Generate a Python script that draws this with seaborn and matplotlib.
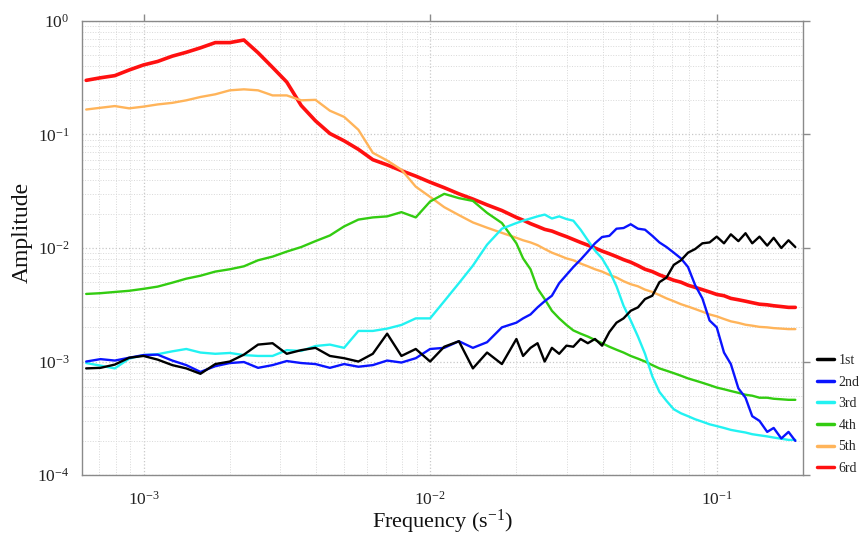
import pandas as pd
import matplotlib
matplotlib.use("Agg")
import matplotlib.pyplot as plt
import seaborn as sns

# frequency grid (s^-1)
freq = [0.000631, 0.000708, 0.000794, 0.000891, 0.001, 0.00112, 0.00126, 0.00141, 0.00158, 0.00178,
        0.002, 0.00224, 0.00251, 0.00282, 0.00316, 0.00355, 0.00398, 0.00447, 0.00501, 0.00562,
        0.00631, 0.00708, 0.00794, 0.00891, 0.01, 0.0112, 0.0126, 0.0141, 0.0158, 0.0178,
        0.02, 0.0211, 0.0224, 0.0237, 0.0251, 0.0266, 0.0282, 0.0299, 0.0316, 0.0335,
        0.0355, 0.0376, 0.0398, 0.0422, 0.0447, 0.0473, 0.0501, 0.0531, 0.0562, 0.0596,
        0.0631, 0.0668, 0.0708, 0.075, 0.0794, 0.0841, 0.0891, 0.0944, 0.1, 0.106,
        0.112, 0.119, 0.126, 0.133, 0.141, 0.15, 0.158, 0.168, 0.178, 0.188]

amp_1st = [0.00087, 0.00088, 0.00094, 0.00108, 0.00112, 0.00104, 0.00093, 0.00087, 0.00078, 0.00095,
           0.001, 0.00115, 0.00141, 0.00145, 0.00117, 0.00126, 0.00132, 0.00112, 0.00107, 0.001,
           0.00117, 0.00176, 0.00112, 0.00129, 0.001, 0.00135, 0.00151, 0.00087, 0.0012, 0.00095,
           0.00158, 0.00112, 0.00132, 0.00145, 0.001, 0.00132, 0.00117, 0.00138, 0.00135, 0.00158,
           0.00145, 0.00158, 0.00138, 0.00182, 0.0022, 0.0024, 0.0028, 0.003, 0.00355, 0.0038,
           0.005, 0.0055, 0.0071, 0.0078, 0.0091, 0.0098, 0.011, 0.0112, 0.0126, 0.011,
           0.0132, 0.0115, 0.0135, 0.011, 0.0126, 0.0105, 0.0123, 0.010, 0.0117, 0.0102]

amp_2nd = [0.001, 0.00105, 0.00102, 0.00108, 0.00114, 0.00115, 0.00102, 0.00093, 0.00081, 0.00091,
           0.00097, 0.00099, 0.00088, 0.00093, 0.00101, 0.00097, 0.00095, 0.00088, 0.00095, 0.0009,
           0.00093, 0.00102, 0.00098, 0.00107, 0.00129, 0.00132, 0.00151, 0.00132, 0.00148, 0.002,
           0.0022, 0.0024, 0.0026, 0.003, 0.0034, 0.0038, 0.0049, 0.0058, 0.0068, 0.0079,
           0.0093, 0.011, 0.0125, 0.0128, 0.0148, 0.015, 0.0162, 0.0148, 0.0145, 0.0128,
           0.0112, 0.0102, 0.0091, 0.0081, 0.0068, 0.0047, 0.0036, 0.0023, 0.002, 0.0012,
           0.00095, 0.00058, 0.00048, 0.00033, 0.0003, 0.00024, 0.00026, 0.00021, 0.00024, 0.0002]

amp_3rd = [0.00097, 0.00092, 0.00087, 0.00106, 0.00114, 0.00116, 0.00123, 0.00129, 0.0012, 0.00117,
           0.00119, 0.00114, 0.00112, 0.00112, 0.00126, 0.00124, 0.00137, 0.00141, 0.00132, 0.00186,
           0.00186, 0.00195, 0.0021, 0.0024, 0.0024, 0.0034, 0.0049, 0.007, 0.0107, 0.0148,
           0.0166, 0.0174, 0.0182, 0.019, 0.0197, 0.0182, 0.019, 0.018, 0.0174, 0.0145,
           0.0117, 0.0095, 0.0081, 0.0063, 0.0046, 0.0031, 0.0023, 0.00166, 0.00117, 0.00074,
           0.00054, 0.00045, 0.00038, 0.00035, 0.00033, 0.00031, 0.000295, 0.00028, 0.00027, 0.00026,
           0.00025, 0.000243, 0.000237, 0.000229, 0.000224, 0.000219, 0.000214, 0.000209, 0.000204, 0.000204]

amp_4th = [0.00394, 0.0040, 0.0041, 0.0042, 0.00437, 0.00457, 0.00495, 0.00537, 0.0057, 0.0062,
           0.0065, 0.0069, 0.0078, 0.0084, 0.0093, 0.0102, 0.0115, 0.0129, 0.0155, 0.0178,
           0.0186, 0.019, 0.0207, 0.0186, 0.0257, 0.030, 0.0275, 0.026, 0.0204, 0.0166,
           0.011, 0.0081, 0.0065, 0.0044, 0.00355, 0.0028, 0.0024, 0.0021, 0.00188, 0.00176,
           0.00166, 0.00155, 0.00145, 0.00135, 0.00127, 0.0012, 0.00112, 0.00106, 0.0010, 0.00093,
           0.00087, 0.00083, 0.00079, 0.00075, 0.00071, 0.00068, 0.00065, 0.00062, 0.00059, 0.00057,
           0.00055, 0.00053, 0.00051, 0.0005, 0.00048, 0.00048, 0.00047, 0.000465, 0.00046, 0.00046]

amp_5th = [0.166, 0.172, 0.178, 0.170, 0.176, 0.184, 0.19, 0.20, 0.214, 0.226,
           0.245, 0.25, 0.245, 0.221, 0.221, 0.20, 0.202, 0.162, 0.143, 0.110,
           0.069, 0.059, 0.049, 0.0347, 0.0282, 0.0229, 0.0195, 0.0168, 0.0151, 0.0136,
           0.0123, 0.0117, 0.0112, 0.0106, 0.0098, 0.0091, 0.0086, 0.0081, 0.0078, 0.0073,
           0.0069, 0.0065, 0.0062, 0.0058, 0.0055, 0.0051, 0.0048, 0.0046, 0.0043, 0.0041,
           0.00385, 0.0036, 0.0034, 0.0032, 0.00305, 0.0029, 0.00275, 0.0026, 0.0025, 0.00237,
           0.00226, 0.00219, 0.00211, 0.00207, 0.00202, 0.0020, 0.00197, 0.00195, 0.00193, 0.00193]

amp_6rd = [0.30, 0.316, 0.33, 0.37, 0.41, 0.44, 0.49, 0.53, 0.58, 0.645,
           0.645, 0.68, 0.525, 0.39, 0.29, 0.18, 0.132, 0.102, 0.088, 0.074,
           0.060, 0.054, 0.048, 0.043, 0.038, 0.034, 0.030, 0.027, 0.024, 0.0214,
           0.0186, 0.0176, 0.0164, 0.0155, 0.0146, 0.0141, 0.0133, 0.0126, 0.0119, 0.0112,
           0.0106, 0.0100, 0.0094, 0.0089, 0.0084, 0.0079, 0.0075, 0.0070, 0.0065, 0.0062,
           0.0058, 0.0055, 0.0052, 0.0050, 0.0047, 0.0045, 0.0043, 0.0041, 0.0039, 0.0038,
           0.0036, 0.0035, 0.0034, 0.0033, 0.0032, 0.00316, 0.0031, 0.00305, 0.0030, 0.0030]

modes = ['1st', '2nd', '3rd', '4th', '5th', '6rd']
colors = ['#000000', '#0a14ff', '#22f2f2', '#33cc11', '#ffb45a', '#ff1010']
amps = [amp_1st, amp_2nd, amp_3rd, amp_4th, amp_5th, amp_6rd]

# long format table for seaborn
frames = [pd.DataFrame({'freq': freq, 'amp': a, 'mode': m}) for m, a in zip(modes, amps)]
df = pd.concat(frames, ignore_index=True)

sns.set_theme(style="white")
plt.rcParams['font.family'] = ['Liberation Serif', 'DejaVu Serif']
plt.rcParams['mathtext.fontset'] = 'custom'
plt.rcParams['mathtext.rm'] = 'Liberation Serif'
plt.rcParams['mathtext.it'] = 'Liberation Serif:italic'

fig, ax = plt.subplots(figsize=(8.63, 5.38), dpi=100)
fig.subplots_adjust(left=0.095, right=0.9305, bottom=0.117, top=0.961)

# draw 6rd first so 1st ends up on top
draw_order = modes[::-1]
sns.lineplot(data=df, x='freq', y='amp', hue='mode', hue_order=draw_order,
             palette=dict(zip(modes, colors)), estimator=None, sort=False,
             linewidth=1.7, ax=ax)

ax.set(xscale='log', yscale='log')
ax.set_xlim(0.00061, 0.2)
ax.set_ylim(1e-4, 1)

for line in ax.lines:
    if line.get_color() == '#ff1010':
        line.set_linewidth(2.6)

ax.grid(which='major', color='#c8c8c8', linestyle=':', linewidth=0.9)
ax.grid(which='minor', color='#d8d8d8', linestyle=':', linewidth=0.7)

for s in ax.spines.values():
    s.set_color('#8a8a8a')
    s.set_linewidth(1.0)
ax.tick_params(which='major', direction='out', length=5, width=1, color='#8a8a8a',
               top=True, right=True, labelsize=12.5, labelcolor='#222222')
ax.tick_params(axis='x', pad=6)
ax.tick_params(axis='y', pad=4)
ax.tick_params(which='minor', length=0)

ax.set_xlabel('Frequency (s$^{-1}$)', fontsize=16, color='#111111')
ax.set_ylabel('Amplitude', fontsize=17, color='#111111')
ax.xaxis.set_label_coords(0.5, -0.072)
ax.yaxis.set_label_coords(-0.068, 0.535)

handles, labels = ax.get_legend_handles_labels()
lookup = dict(zip(labels, handles))
leg = ax.legend([lookup[m] for m in modes], modes, loc='lower left',
                bbox_to_anchor=(1.02, 0.0), frameon=False, fontsize=10,
                handlelength=1.2, handletextpad=0.3, labelspacing=0.62,
                borderaxespad=0, borderpad=0)
for h in leg.get_lines():
    h.set_linewidth(2.5)

plt.savefig('out.png', dpi=100)
